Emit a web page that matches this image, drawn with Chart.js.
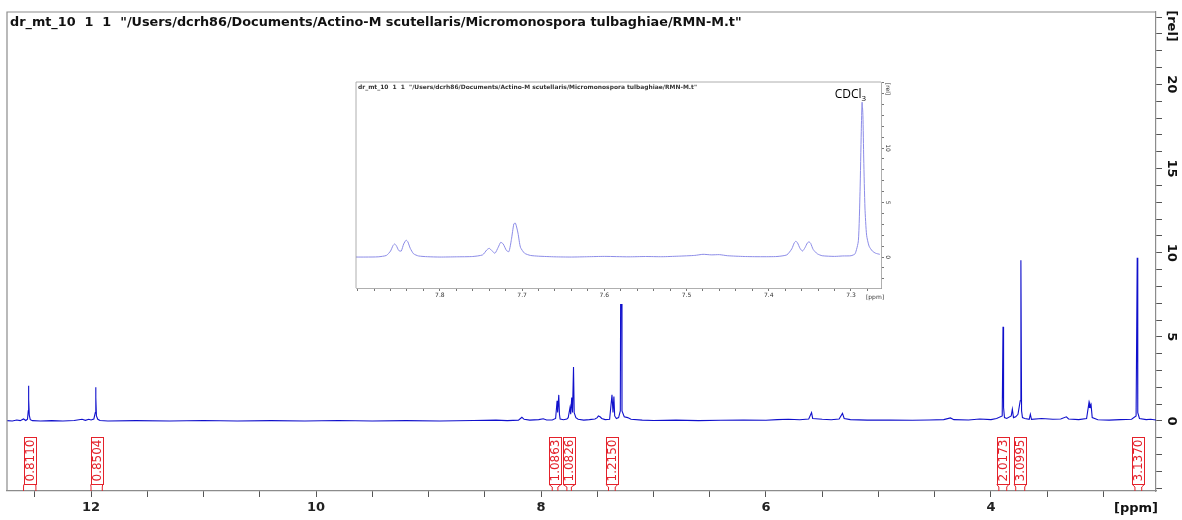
<!DOCTYPE html>
<html><head><meta charset="utf-8">
<script src="https://cdn.jsdelivr.net/npm/chart.js@4.4.0/dist/chart.umd.min.js"></script>
<style>
html,body{margin:0;padding:0;background:#fff;overflow:hidden}
#wrap{position:relative;width:1182px;height:520px}
#main{position:absolute;left:0;top:0}
#inset{position:absolute;left:350px;top:76px}
</style></head><body>
<div id="wrap"><canvas id="main" width="1182" height="520"></canvas><canvas id="inset" width="546" height="228"></canvas></div>
<script>
const TITLE = 'dr_mt_10  1  1  "/Users/dcrh86/Documents/Actino-M scutellaris/Micromonospora tulbaghiae/RMN-M.t"';

// main spectrum (ppm, rel)
const mainPpm = [12.75,12.70,12.66,12.63,12.60,12.58,12.565,12.558,12.556,12.553,12.549,12.54,12.52,12.45,12.35,12.25,12.15,12.08,12.05,12.02,12.0,11.975,11.962,11.959,11.956,11.952,11.94,11.92,11.85,11.6,11.3,11.0,10.7,10.4,10.1,9.8,9.5,9.2,8.9,8.6,8.4,8.3,8.2,8.17,8.15,8.1,8.02,7.98,7.95,7.90,7.87,7.857,7.852,7.842,7.836,7.83,7.80,7.77,7.758,7.742,7.736,7.727,7.72,7.711,7.705,7.69,7.67,7.62,7.57,7.52,7.50,7.49,7.475,7.46,7.43,7.39,7.369,7.36,7.352,7.345,7.33,7.31,7.295,7.287,7.28,7.26,7.23,7.20,7.1,7.0,6.8,6.6,6.4,6.2,6.0,5.9,5.8,5.7,5.62,5.595,5.585,5.5,5.42,5.35,5.32,5.305,5.25,5.1,4.9,4.7,4.55,4.42,4.36,4.33,4.2,4.1,4.0,3.95,3.90,3.893,3.888,3.88,3.86,3.82,3.81,3.80,3.78,3.76,3.74,3.734,3.728,3.72,3.70,3.66,3.65,3.64,3.55,3.45,3.38,3.33,3.31,3.22,3.15,3.13,3.125,3.12,3.115,3.11,3.10,3.05,2.95,2.85,2.75,2.71,2.700,2.695,2.68,2.62,2.58,2.533];
const mainRel = [0.02,0.0,0.06,0.02,0.12,0.03,0.1,0.6,2.1,1.3,0.35,0.08,0.02,0.0,0.02,0.0,0.03,0.1,0.04,0.1,0.06,0.12,0.5,2.0,1.4,0.3,0.1,0.03,0.0,0.02,0.0,0.03,0.0,0.02,0.0,0.03,0.0,0.02,0.0,0.03,0.05,0.02,0.05,0.22,0.1,0.05,0.08,0.13,0.06,0.06,0.15,1.2,0.5,1.55,0.4,0.12,0.07,0.12,0.2,0.8,0.4,1.4,0.5,3.2,0.5,0.2,0.1,0.05,0.08,0.12,0.2,0.3,0.25,0.15,0.08,0.1,1.55,0.5,1.45,0.3,0.15,0.2,0.6,19,0.6,0.25,0.2,0.1,0.05,0.03,0.05,0.02,0.04,0.06,0.04,0.08,0.1,0.07,0.12,0.5,0.15,0.1,0.07,0.12,0.45,0.15,0.08,0.05,0.06,0.04,0.06,0.08,0.18,0.08,0.06,0.12,0.08,0.15,0.3,5.6,0.8,0.2,0.15,0.3,0.7,0.2,0.25,0.4,1.2,9.55,0.6,0.2,0.15,0.1,0.4,0.1,0.15,0.1,0.12,0.25,0.12,0.08,0.15,1.05,0.8,1.0,0.85,0.95,0.2,0.07,0.05,0.08,0.1,0.3,9.7,0.5,0.15,0.08,0.1,0.06];

const xLabelValues = [12, 10, 8, 6, 4];
const yLabelValues = [0, 5, 10, 15, 20];

const integralText = ['0.8110','0.8504','1.0863','1.0826','1.2150','2.0173','3.0995','3.1370'];
const integralFrom = [12.60, 12.00, 7.90, 7.77, 7.40, 3.93, 3.78, 2.72];
const integralTo   = [12.49, 11.90, 7.85, 7.73, 7.34, 3.86, 3.70, 2.66];

// inset spectrum (ppm, rel)
const insetPpm = [7.902,7.89,7.875,7.865,7.860,7.857,7.855,7.853,7.850,7.847,7.844,7.841,7.839,7.836,7.832,7.826,7.815,7.80,7.78,7.76,7.748,7.743,7.740,7.737,7.733,7.729,7.726,7.723,7.719,7.716,7.713,7.710,7.708,7.705,7.702,7.697,7.69,7.68,7.66,7.64,7.62,7.60,7.585,7.57,7.55,7.53,7.51,7.49,7.48,7.47,7.46,7.45,7.43,7.41,7.39,7.378,7.372,7.369,7.367,7.365,7.362,7.359,7.356,7.353,7.351,7.349,7.346,7.341,7.335,7.32,7.31,7.30,7.295,7.291,7.289,7.2875,7.2865,7.2855,7.2845,7.283,7.281,7.278,7.274,7.27,7.265];
const insetRel = [0.0,0.0,0.02,0.15,0.55,1.05,1.2,1.05,0.6,0.55,1.2,1.55,1.4,0.8,0.3,0.1,0.03,0.0,0.02,0.05,0.2,0.65,0.8,0.6,0.35,0.9,1.35,1.2,0.6,0.5,1.6,3.05,3.1,2.2,0.9,0.35,0.15,0.08,0.02,0.0,0.03,0.06,0.04,0.02,0.05,0.03,0.08,0.15,0.25,0.2,0.22,0.12,0.05,0.03,0.05,0.2,0.75,1.3,1.45,1.3,0.8,0.55,0.85,1.3,1.4,1.25,0.7,0.3,0.12,0.06,0.1,0.12,0.3,1.5,6,11.5,14.2,13,9,4.5,2.0,1.0,0.55,0.35,0.25];
const insetXLabelValues = [7.8, 7.7, 7.6, 7.5, 7.4, 7.3];
const insetYLabelValues = [0, 5, 10];
const solventPpm = 7.2865, solventRel = 14.2;

const FONT = '"DejaVu Sans", sans-serif';
Chart.defaults.font.family = FONT;

function fitFont(ctx, text, weight, baseSize, targetWidth) {
  ctx.font = weight + ' ' + baseSize + 'px ' + FONT;
  const w = ctx.measureText(text).width;
  return baseSize * targetWidth / w;
}

const mainPlugin = {
  id: 'mainDeco',
  afterDraw(chart) {
    const {ctx, chartArea: a, scales: {x, y}} = chart;
    ctx.save();
    ctx.strokeStyle = '#8c8c8c'; ctx.lineWidth = 1.2;
    ctx.beginPath(); ctx.moveTo(a.left, a.bottom); ctx.lineTo(a.left, a.top); ctx.lineTo(a.right, a.top); ctx.stroke();
    // title
    const fs = fitFont(ctx, TITLE, 'bold', 13, 732);
    ctx.font = 'bold ' + fs.toFixed(2) + 'px ' + FONT;
    ctx.fillStyle = '#111'; ctx.textAlign = 'left'; ctx.textBaseline = 'alphabetic';
    ctx.fillText(TITLE, a.left + 3, a.top + 14);
    // right axis labels, rotated
    ctx.font = 'bold 13px ' + FONT; ctx.textAlign = 'center'; ctx.textBaseline = 'middle';
    yLabelValues.forEach(v => {
      const py = y.getPixelForValue(v);
      ctx.save(); ctx.translate(a.right + 15, py); ctx.rotate(Math.PI / 2); ctx.fillText(String(v), 0, 0); ctx.restore();
    });
    ctx.save(); ctx.translate(a.right + 15, a.top + 14); ctx.rotate(Math.PI / 2); ctx.fillText('[rel]', 0, 0); ctx.restore();
    ctx.fillText('[ppm]', a.right - 20, a.bottom + 18);
    // integrals
    ctx.strokeStyle = '#e4222b'; ctx.fillStyle = '#e4222b'; ctx.lineWidth = 1;
    ctx.font = '12px ' + FONT;
    integralText.forEach((t, i) => {
      const x1 = x.getPixelForValue(integralFrom[i]), x2 = x.getPixelForValue(integralTo[i]);
      const cx = (x1 + x2) / 2, bw = 12, top = a.bottom - 54, bot = a.bottom - 7;
      ctx.strokeRect(Math.round(cx - bw / 2) + 0.5, top + 0.5, bw, bot - top);
      ctx.beginPath();
      ctx.moveTo(cx - bw / 2, bot + 0.5); ctx.lineTo(x1, bot + 3); ctx.lineTo(x1, a.bottom);
      ctx.moveTo(cx + bw / 2, bot + 0.5); ctx.lineTo(x2, bot + 3); ctx.lineTo(x2, a.bottom);
      ctx.stroke();
      ctx.save(); ctx.translate(cx + 0.5, (top + bot) / 2); ctx.rotate(-Math.PI / 2);
      ctx.textAlign = 'center'; ctx.textBaseline = 'middle'; ctx.fillText(t, 0, 0.5); ctx.restore();
    });
    ctx.restore();
  }
};

new Chart(document.getElementById('main'), {
  type: 'line',
  data: { datasets: [{ data: mainPpm.map((p, i) => ({x: p, y: mainRel[i]})), borderColor: '#1010cc', borderWidth: 1.1, pointRadius: 0, fill: false, tension: 0 }] },
  options: {
    responsive: false, animation: false, events: [],
    layout: { padding: { left: 7, top: 12, right: 0, bottom: 0 } },
    plugins: { legend: { display: false }, tooltip: { enabled: false } },
    scales: {
      x: {
        type: 'linear', position: 'bottom', reverse: true, min: 2.533, max: 12.747,
        afterFit(s) { s.height = 29; },
        border: { display: true, color: '#8c8c8c', width: 1.2 },
        grid: { drawOnChartArea: false, drawTicks: true, tickLength: 6, color: '#555' },
        ticks: { stepSize: 0.5, includeBounds: false, autoSkip: false, maxRotation: 0, minRotation: 0, padding: 3,
          font: { size: 13, weight: 'bold' }, color: '#222',
          callback: v => xLabelValues.some(l => Math.abs(l - v) < 1e-6) ? String(Math.round(v)) : '' }
      },
      y: {
        type: 'linear', position: 'right', min: -4.16, max: 24.3,
        afterFit(s) { s.width = 26; },
        border: { display: true, color: '#8c8c8c', width: 1.2 },
        grid: { drawOnChartArea: false, drawTicks: true, tickLength: 6, color: '#555' },
        ticks: { display: false, stepSize: 1, includeBounds: false }
      }
    }
  },
  plugins: [mainPlugin]
});

const insetPlugin = {
  id: 'insetDeco',
  beforeDraw(chart) {
    const ctx = chart.ctx;
    ctx.save(); ctx.fillStyle = '#fff'; ctx.fillRect(0, 0, chart.width, chart.height); ctx.restore();
  },
  afterDraw(chart) {
    const {ctx, chartArea: a, scales: {x, y}} = chart;
    ctx.save();
    ctx.strokeStyle = '#9a9a9a'; ctx.lineWidth = 0.8;
    ctx.beginPath(); ctx.moveTo(a.left, a.bottom); ctx.lineTo(a.left, a.top); ctx.lineTo(a.right, a.top); ctx.stroke();
    const fs = fitFont(ctx, TITLE, 'bold', 6, 340);
    ctx.font = 'bold ' + fs.toFixed(2) + 'px ' + FONT;
    ctx.fillStyle = '#333'; ctx.textAlign = 'left'; ctx.textBaseline = 'alphabetic';
    ctx.fillText(TITLE, a.left + 2, a.top + 7);
    ctx.font = '6px ' + FONT; ctx.textAlign = 'center'; ctx.textBaseline = 'middle';
    insetYLabelValues.forEach(v => {
      const py = y.getPixelForValue(v);
      ctx.save(); ctx.translate(a.right + 7, py); ctx.rotate(Math.PI / 2); ctx.fillText(String(v), 0, 0); ctx.restore();
    });
    ctx.save(); ctx.translate(a.right + 7, a.top + 7); ctx.rotate(Math.PI / 2); ctx.fillText('[rel]', 0, 0); ctx.restore();
    ctx.fillText('[ppm]', a.right - 6, a.bottom + 9);
    // solvent label
    const px = x.getPixelForValue(solventPpm), py = y.getPixelForValue(solventRel);
    ctx.fillStyle = '#000';
    ctx.font = '12px "Open Sans", sans-serif';
    const w1 = ctx.measureText('CDCl').width;
    ctx.font = '8px "Open Sans", sans-serif';
    const w2 = ctx.measureText('3').width;
    const sx = px + 4 - (w1 + w2);
    ctx.textAlign = 'left'; ctx.textBaseline = 'alphabetic';
    ctx.font = '12px "Open Sans", sans-serif';
    ctx.fillText('CDCl', sx, py - 4);
    ctx.font = '8px "Open Sans", sans-serif';
    ctx.fillText('3', sx + w1, py - 1);
    ctx.restore();
  }
};

new Chart(document.getElementById('inset'), {
  type: 'line',
  data: { datasets: [{ data: insetPpm.map((p, i) => ({x: p, y: insetRel[i]})), borderColor: '#8c8ce8', borderWidth: 1, pointRadius: 0, fill: false, tension: 0.2 }] },
  options: {
    responsive: false, animation: false, events: [],
    layout: { padding: { left: 6, top: 6, right: 0, bottom: 0 } },
    plugins: { legend: { display: false }, tooltip: { enabled: false } },
    scales: {
      x: {
        type: 'linear', position: 'bottom', reverse: true, min: 7.2635, max: 7.902,
        afterFit(s) { s.height = 16; },
        border: { display: true, color: '#9a9a9a', width: 0.8 },
        grid: { drawOnChartArea: false, drawTicks: true, tickLength: 3, color: '#777' },
        ticks: { stepSize: 0.02, includeBounds: false, autoSkip: false, maxRotation: 0, minRotation: 0, padding: 1,
          font: { size: 6 }, color: '#333',
          callback: v => insetXLabelValues.some(l => Math.abs(l - v) < 1e-6) ? v.toFixed(1) : '' }
      },
      y: {
        type: 'linear', position: 'right', min: -2.84, max: 16.06,
        afterFit(s) { s.width = 15; },
        border: { display: true, color: '#9a9a9a', width: 0.8 },
        grid: { drawOnChartArea: false, drawTicks: true, tickLength: 3, color: '#777' },
        ticks: { display: false, stepSize: 1, includeBounds: false }
      }
    }
  },
  plugins: [insetPlugin]
});
</script>
</body></html>
